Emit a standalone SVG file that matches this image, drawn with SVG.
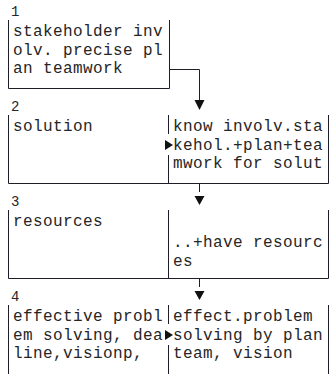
<svg xmlns="http://www.w3.org/2000/svg" width="331" height="374" viewBox="0 0 331 374">
  <defs>
    <style>
      .bg { fill: #ffffff; }
      .frame { fill: none; stroke: #1e1e2a; stroke-width: 1; }
      .txt { font-family: "Liberation Mono", "Courier New", monospace; font-size: 16px; letter-spacing: 0.4px; fill: #262626; }
      .num { font-family: "Liberation Mono", "Courier New", monospace; font-size: 14px; fill: #262626; }
      .wire { fill: none; stroke: #1e1e2a; stroke-width: 1; }
      .tri { fill: #111111; }
    </style>
  </defs>
  <rect class="bg" x="0" y="0" width="331" height="374"/>

  <!-- step 1 -->
  <g id="step1">
    <text class="num" x="11" y="16">1</text>
    <path class="frame" d="M8.5,20 V88.5 H169.5 V20"/>
    <text class="txt" x="13" y="36">stakeholder inv</text>
    <text class="txt" x="13" y="54.5">olv. precise pl</text>
    <text class="txt" x="13" y="73">an teamwork</text>
  </g>

  <!-- step 2 -->
  <g id="step2">
    <text class="num" x="11" y="111">2</text>
    <path class="frame" d="M8.5,115 V183.5 H328.5 V115"/>
    <path class="frame" d="M168.5,115 V134 M168.5,155 V183"/>
    <polygon class="tri" points="165,140 173,145 165,150"/>
    <text class="txt" x="13" y="131">solution</text>
    <text class="txt" x="173" y="131">know involv.sta</text>
    <text class="txt" x="173" y="149.5">kehol.+plan+tea</text>
    <text class="txt" x="173" y="168">mwork for solut</text>
  </g>

  <!-- step 3 -->
  <g id="step3">
    <text class="num" x="11" y="206">3</text>
    <path class="frame" d="M8.5,210 V278.5 H328.5 V210"/>
    <path class="frame" d="M168.5,210 V278"/>
    <text class="txt" x="13" y="226">resources</text>
    <text class="txt" x="173" y="247">..+have resourc</text>
    <text class="txt" x="173" y="265.5">es</text>
  </g>

  <!-- step 4 -->
  <g id="step4">
    <text class="num" x="11" y="301">4</text>
    <path class="frame" d="M8.5,305 V376 M328.5,305 V376"/>
    <path class="frame" d="M168.5,305 V324 M168.5,345 V376"/>
    <polygon class="tri" points="165,330 173,335 165,340"/>
    <text class="txt" x="13" y="321">effective probl</text>
    <text class="txt" x="13" y="339.5">em solving, dea</text>
    <text class="txt" x="13" y="358">line,visionp,</text>
    <text class="txt" x="173" y="321">effect.problem</text>
    <text class="txt" x="173" y="339.5">solving by plan</text>
    <text class="txt" x="173" y="358">team, vision</text>
  </g>

  <!-- connectors between steps -->
  <g id="connectors">
    <path class="wire" d="M169.5,69.5 H199.5 V100"/>
    <polygon class="tri" points="194.5,100 204.5,100 199.5,110"/>
    <path class="wire" d="M199.5,183 V192"/>
    <polygon class="tri" points="194.5,196 204.5,196 199.5,205"/>
    <path class="wire" d="M199.5,278 V287"/>
    <polygon class="tri" points="194.5,291 204.5,291 199.5,300"/>
  </g>
</svg>
